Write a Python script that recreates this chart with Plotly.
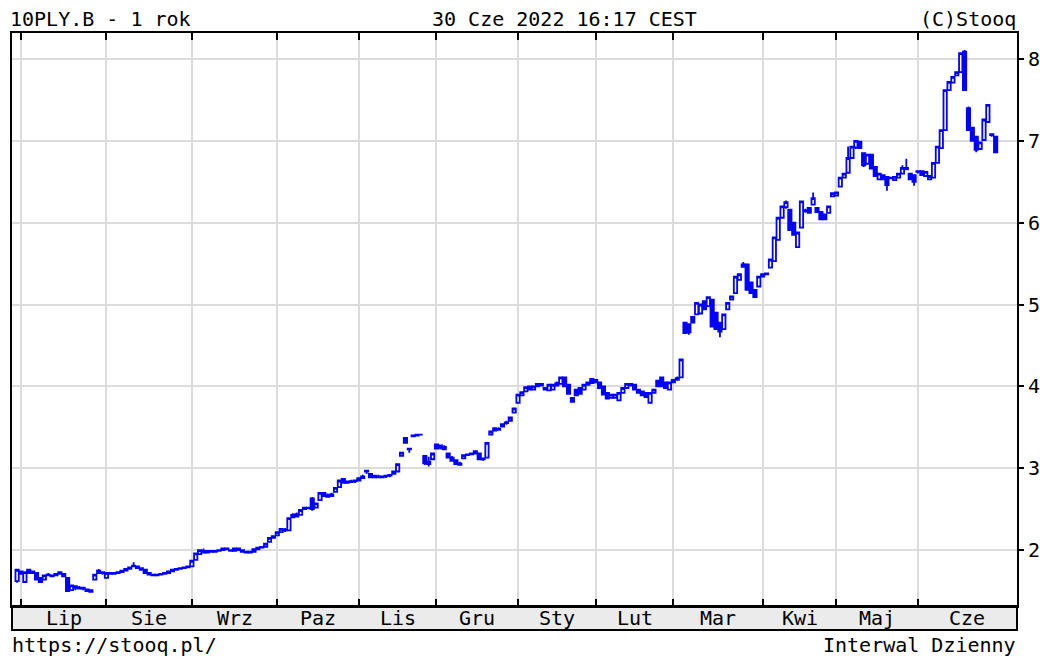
import plotly.graph_objects as go

# ---- data (trading-day index 0 = 30 Jun 2021 ... 252 = 30 Jun 2022) ----
opens = [
    1.62, 1.74, 1.61, 1.76, 1.74, 1.72, 1.66, 1.64, 1.70, 1.68, 1.69, 1.71, 1.71, 1.66, 1.51, 1.56, 1.54, 1.53, 1.52, 1.51, 1.64, 1.75, 1.72,
    1.66, 1.72, 1.71, 1.72, 1.73, 1.75, 1.77, 1.80, 1.80, 1.78, 1.76, 1.72, 1.70, 1.69, 1.70, 1.71, 1.72, 1.74, 1.76, 1.77, 1.78, 1.79,
    1.80, 1.88, 1.95, 1.99, 1.97, 1.99, 1.98, 1.99, 2.00, 2.02, 2.00, 1.99, 2.02, 2.00, 1.98, 1.97, 1.98, 2.01, 2.03, 2.04, 2.10, 2.15,
    2.18, 2.22, 2.25, 2.24, 2.40, 2.44, 2.43, 2.50, 2.52, 2.63, 2.52, 2.61, 2.70, 2.67, 2.66, 2.71, 2.77, 2.87, 2.82, 2.84, 2.84,
    2.85, 2.88, 2.97, 2.93, 2.89, 2.90, 2.89, 2.90, 2.91, 2.93, 2.96, 3.15, 3.37, 3.24, 3.39, 3.40, 3.41, 3.15, 3.08, 3.11,
    3.29, 3.28, 3.26, 3.18, 3.13, 3.10, 3.06, 3.12, 3.16, 3.17, 3.18, 3.18, 3.11, 3.13, 3.41, 3.46, 3.48, 3.51, 3.55, 3.58, 3.68,
    3.80, 3.89, 3.94, 4.00, 3.96, 4.00, 4.03, 3.98, 3.95, 3.96, 4.01, 4.03, 4.11, 4.02, 3.86, 3.96, 3.98, 3.96, 4.02, 4.09,
    4.05, 4.05, 4.00, 3.92, 3.86, 3.86, 3.83, 3.92, 3.98, 4.01, 4.02, 3.96, 3.94, 3.92, 3.80, 3.92, 4.07, 4.11, 4.05, 3.96,
    4.05, 4.08, 4.11, 4.78, 4.76, 4.85, 4.88, 4.89, 5.04, 4.98, 5.06, 4.90, 4.78, 4.70, 4.94, 5.06, 5.14, 5.30, 5.46, 5.49, 5.27, 5.18, 5.22,
    5.34, 5.37, 5.45, 5.53, 5.79, 6.06, 6.19, 6.16, 6.00, 5.70, 5.94, 6.14, 6.18, 6.22, 6.18, 6.13, 6.10, 6.12, 6.32,
    6.33, 6.44, 6.55, 6.61, 6.79, 6.92, 6.99, 6.85, 6.72, 6.83, 6.68, 6.53, 6.58, 6.56, 6.54, 6.52, 6.55, 6.60, 6.67, 6.60, 6.58,
    6.62, 6.63, 6.57, 6.53, 6.55, 6.73, 6.91, 7.13, 7.62, 7.71, 7.80, 7.84, 8.09, 7.40, 7.16, 7.05, 6.90, 7.01, 7.23, 7.08, 7.05,
]
highs = [
    1.77, 1.75, 1.74, 1.77, 1.75, 1.73, 1.67, 1.70, 1.72, 1.70, 1.72, 1.74, 1.72, 1.67, 1.58, 1.57, 1.56, 1.55, 1.53, 1.52, 1.71, 1.77, 1.74,
    1.73, 1.73, 1.73, 1.74, 1.76, 1.78, 1.80, 1.85, 1.81, 1.79, 1.76, 1.73, 1.71, 1.71, 1.72, 1.73, 1.75, 1.77, 1.78, 1.79, 1.80, 1.81,
    1.88, 1.97, 2.01, 2.02, 2.00, 2.00, 2.00, 2.01, 2.03, 2.03, 2.01, 2.03, 2.03, 2.00, 1.99, 1.99, 2.02, 2.04, 2.05, 2.09, 2.16, 2.18,
    2.23, 2.27, 2.27, 2.40, 2.45, 2.46, 2.50, 2.53, 2.53, 2.65, 2.58, 2.71, 2.71, 2.69, 2.70, 2.77, 2.86, 2.88, 2.85, 2.86, 2.86,
    2.89, 2.92, 2.98, 2.94, 2.92, 2.92, 2.91, 2.92, 2.93, 2.97, 3.06, 3.20, 3.38, 3.25, 3.41, 3.42, 3.42, 3.16, 3.14, 3.19,
    3.30, 3.29, 3.28, 3.19, 3.15, 3.11, 3.08, 3.17, 3.18, 3.19, 3.22, 3.19, 3.13, 3.32, 3.46, 3.50, 3.50, 3.55, 3.58, 3.63, 3.74,
    3.91, 3.94, 4.00, 4.01, 4.01, 4.04, 4.04, 3.99, 4.03, 4.03, 4.06, 4.12, 4.12, 4.03, 3.87, 3.97, 3.99, 4.03, 4.06, 4.10,
    4.09, 4.06, 4.01, 3.93, 3.91, 3.91, 3.93, 3.99, 4.04, 4.04, 4.03, 3.97, 3.95, 3.93, 3.93, 3.97, 4.08, 4.12, 4.06, 4.06,
    4.09, 4.12, 4.34, 4.79, 4.77, 4.86, 5.03, 5.01, 5.05, 5.10, 5.07, 4.91, 4.79, 4.89, 5.03, 5.11, 5.35, 5.38, 5.52, 5.50, 5.28, 5.19, 5.35,
    5.38, 5.39, 5.56, 5.83, 6.07, 6.21, 6.27, 6.17, 6.01, 5.89, 6.27, 6.17, 6.19, 6.37, 6.19, 6.14, 6.11, 6.21, 6.37,
    6.38, 6.56, 6.61, 6.93, 6.94, 7.01, 7.00, 6.86, 6.84, 6.84, 6.69, 6.61, 6.59, 6.57, 6.56, 6.57, 6.61, 6.70, 6.78, 6.61, 6.59,
    6.64, 6.64, 6.63, 6.58, 6.74, 6.94, 7.14, 7.63, 7.73, 7.79, 7.85, 8.08, 8.11, 7.42, 7.17, 7.06, 6.99, 7.27, 7.45, 7.09, 7.06,
]
lows = [
    1.60, 1.70, 1.60, 1.71, 1.71, 1.63, 1.60, 1.63, 1.68, 1.67, 1.68, 1.70, 1.67, 1.49, 1.50, 1.51, 1.52, 1.51, 1.49, 1.48, 1.63, 1.71, 1.70,
    1.65, 1.70, 1.71, 1.71, 1.72, 1.74, 1.76, 1.79, 1.77, 1.75, 1.71, 1.69, 1.68, 1.68, 1.69, 1.70, 1.71, 1.73, 1.75, 1.76, 1.77, 1.78,
    1.79, 1.87, 1.94, 1.96, 1.96, 1.97, 1.97, 1.98, 1.99, 2.00, 1.98, 1.98, 2.00, 1.97, 1.96, 1.96, 1.97, 2.00, 2.02, 2.03, 2.09, 2.14,
    2.17, 2.21, 2.22, 2.23, 2.39, 2.40, 2.42, 2.49, 2.50, 2.48, 2.51, 2.60, 2.65, 2.64, 2.65, 2.70, 2.76, 2.81, 2.81, 2.82, 2.82,
    2.84, 2.87, 2.93, 2.88, 2.88, 2.88, 2.88, 2.88, 2.89, 2.92, 2.95, 3.14, 3.30, 3.19, 3.38, 3.39, 3.40, 3.04, 3.02, 3.10,
    3.23, 3.23, 3.22, 3.12, 3.08, 3.04, 3.03, 3.11, 3.15, 3.16, 3.17, 3.10, 3.09, 3.12, 3.40, 3.45, 3.46, 3.50, 3.53, 3.57, 3.67,
    3.79, 3.88, 3.93, 3.95, 3.95, 3.99, 4.00, 3.95, 3.94, 3.95, 4.00, 4.02, 3.99, 3.90, 3.80, 3.88, 3.90, 3.95, 4.01, 4.03,
    4.04, 3.97, 3.89, 3.84, 3.85, 3.85, 3.82, 3.91, 3.97, 4.00, 3.95, 3.91, 3.88, 3.86, 3.79, 3.91, 3.99, 3.99, 3.97, 3.95,
    4.04, 4.07, 4.10, 4.64, 4.63, 4.77, 4.87, 4.88, 4.93, 4.97, 4.72, 4.69, 4.60, 4.69, 4.93, 5.05, 5.13, 5.29, 5.45, 5.17, 5.13, 5.08, 5.21,
    5.33, 5.36, 5.44, 5.52, 5.78, 6.05, 6.17, 5.90, 5.84, 5.69, 5.93, 6.12, 6.11, 6.21, 6.12, 6.03, 6.03, 6.11, 6.31,
    6.32, 6.43, 6.54, 6.60, 6.78, 6.90, 6.90, 6.68, 6.71, 6.65, 6.56, 6.52, 6.52, 6.39, 6.53, 6.51, 6.54, 6.59, 6.64, 6.52, 6.45,
    6.60, 6.57, 6.56, 6.52, 6.54, 6.72, 6.90, 7.12, 7.61, 7.70, 7.79, 7.83, 7.61, 7.12, 6.99, 6.86, 6.89, 7.00, 7.22, 7.05, 6.85,
]
closes = [
    1.76, 1.71, 1.73, 1.72, 1.72, 1.64, 1.61, 1.69, 1.69, 1.69, 1.71, 1.73, 1.68, 1.50, 1.57, 1.54, 1.53, 1.54, 1.50, 1.49, 1.70, 1.72, 1.73,
    1.72, 1.71, 1.72, 1.73, 1.75, 1.77, 1.79, 1.81, 1.78, 1.76, 1.72, 1.70, 1.69, 1.70, 1.71, 1.72, 1.74, 1.76, 1.77, 1.78, 1.79, 1.80,
    1.87, 1.96, 2.00, 1.97, 1.99, 1.98, 1.99, 2.00, 2.02, 2.01, 1.99, 2.02, 2.00, 1.98, 1.97, 1.98, 2.01, 2.03, 2.04, 2.08, 2.15, 2.17,
    2.22, 2.26, 2.24, 2.39, 2.43, 2.41, 2.49, 2.52, 2.51, 2.50, 2.57, 2.70, 2.66, 2.65, 2.68, 2.76, 2.85, 2.82, 2.84, 2.83, 2.85,
    2.88, 2.90, 2.96, 2.89, 2.91, 2.89, 2.90, 2.91, 2.92, 2.96, 3.05, 3.19, 3.31, 3.23, 3.40, 3.41, 3.41, 3.06, 3.05, 3.18,
    3.24, 3.25, 3.23, 3.13, 3.09, 3.05, 3.04, 3.16, 3.17, 3.18, 3.21, 3.11, 3.12, 3.31, 3.45, 3.49, 3.47, 3.54, 3.56, 3.62, 3.73,
    3.90, 3.93, 3.99, 3.96, 4.00, 4.03, 4.01, 3.96, 4.02, 4.02, 4.04, 4.11, 4.00, 3.91, 3.81, 3.89, 3.91, 4.02, 4.05, 4.04,
    4.08, 3.98, 3.90, 3.85, 3.90, 3.90, 3.92, 3.98, 4.03, 4.03, 3.96, 3.92, 3.89, 3.87, 3.92, 3.96, 4.00, 4.00, 3.98, 4.05,
    4.08, 4.10, 4.33, 4.65, 4.66, 4.78, 5.02, 5.00, 4.94, 5.09, 4.73, 4.70, 4.67, 4.88, 5.02, 5.10, 5.34, 5.37, 5.49, 5.18, 5.14, 5.09, 5.34,
    5.37, 5.38, 5.55, 5.82, 6.06, 6.20, 6.25, 5.91, 5.85, 5.88, 6.26, 6.15, 6.12, 6.30, 6.13, 6.04, 6.04, 6.20, 6.36,
    6.37, 6.55, 6.60, 6.79, 6.93, 7.00, 6.91, 6.70, 6.83, 6.66, 6.57, 6.60, 6.53, 6.46, 6.55, 6.56, 6.60, 6.67, 6.65, 6.53, 6.50,
    6.63, 6.58, 6.62, 6.57, 6.73, 6.93, 7.13, 7.62, 7.72, 7.78, 7.84, 8.07, 7.62, 7.13, 7.00, 6.89, 6.98, 7.26, 7.44, 7.07, 6.86,
]
day_index = list(range(len(closes)))

month_labels = ["Lip", "Sie", "Wrz", "Paz", "Lis", "Gru", "Sty", "Lut", "Mar", "Kwi", "Maj", "Cze"]
month_start_idx = [1, 23, 45, 67, 88, 108, 129, 149, 169, 192, 211, 232]
price_ticks = [2, 3, 4, 5, 6, 7, 8]

title_left = "10PLY.B - 1 rok"
title_mid = "30 Cze 2022 16:17 CEST"
title_right = "(C)Stooq"
foot_left = "https://stooq.pl/"
foot_right = "Interwal Dzienny"

# ---- figure ----
FONT = "DejaVu Sans Mono"
BLUE = "#0000ff"
GRID = "#dcdcdc"
X_RANGE = [-1.32, 257.5]
Y_RANGE = [1.317, 8.317]
PLOT_H = 573.0

fig = go.Figure()
fig.add_trace(go.Candlestick(
    x=day_index, open=opens, high=highs, low=lows, close=closes,
    increasing=dict(line=dict(color=BLUE, width=1.8), fillcolor="#ffffff"),
    decreasing=dict(line=dict(color=BLUE, width=1.8), fillcolor=BLUE),
    whiskerwidth=0, showlegend=False,
))

annotations = []
ends = month_start_idx[1:] + [X_RANGE[1]]
for lab, s, e in zip(month_labels, month_start_idx, ends):
    annotations.append(dict(x=(s + e) / 2, xref="x", y=-12 / PLOT_H, yref="paper",
                            text=lab, showarrow=False, xanchor="center", yanchor="middle",
                            font=dict(family=FONT, size=20, color="#000")))

def paper_x(px):
    return (px - 12) / 1005.0

def paper_y(py):
    return (606 - py) / PLOT_H

for txt, px, anc, py in [
    (title_left, 8, "left", 19), (title_mid, 564, "center", 19), (title_right, 1018, "right", 19),
    (foot_left, 10, "left", 645), (foot_right, 1018, "right", 645),
]:
    annotations.append(dict(x=paper_x(px), xref="paper", y=paper_y(py), yref="paper",
                            text=txt, showarrow=False, xanchor=anc, yanchor="middle",
                            font=dict(family=FONT, size=20, color="#000")))

fig.update_layout(
    width=1040, height=659,
    margin=dict(l=12, r=23, t=33, b=53, autoexpand=False),
    paper_bgcolor="#ffffff", plot_bgcolor="#ffffff",
    showlegend=False,
    boxgap=0.15, boxgroupgap=0,
    font=dict(family=FONT, size=20, color="#000"),
    xaxis=dict(
        range=X_RANGE, tickvals=month_start_idx, showticklabels=False,
        ticks="inside", ticklen=7, tickwidth=1.5, tickcolor="#000",
        showgrid=True, gridcolor=GRID, gridwidth=2,
        showline=True, linecolor="#000", linewidth=2, mirror="ticks",
        zeroline=False, rangeslider=dict(visible=False), fixedrange=True,
        automargin=False,
    ),
    yaxis=dict(
        range=Y_RANGE, side="right", tickvals=price_ticks,
        ticks="outside", ticklen=5, tickwidth=1.5, tickcolor="#000",
        tickfont=dict(family=FONT, size=20, color="#000"),
        showgrid=True, gridcolor=GRID, gridwidth=2,
        showline=True, linecolor="#000", linewidth=2, mirror=True,
        zeroline=False, automargin=False,
    ),
    yaxis2=dict(
        range=Y_RANGE, overlaying="y", side="left", tickvals=price_ticks,
        ticks="inside", ticklen=7, tickwidth=1.5, tickcolor="#000",
        showticklabels=False, showgrid=False, showline=False, zeroline=False,
        automargin=False,
    ),
    shapes=[dict(type="rect", xref="paper", yref="paper", x0=0, x1=1,
                 y0=-24 / PLOT_H, y1=0, fillcolor="#ebebeb",
                 line=dict(color="#000", width=2), layer="below")],
    annotations=annotations,
)

fig.write_html(
    "out.html",
    config={"displayModeBar": False},
    post_script="document.body.style.margin='0';document.body.style.overflow='hidden';",
)
